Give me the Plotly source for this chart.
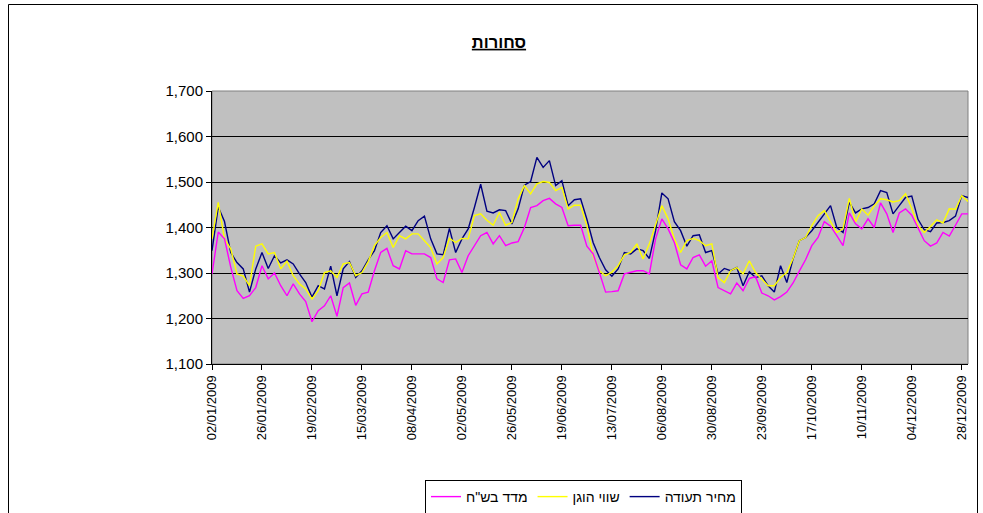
import pandas as pd
import plotly.graph_objects as go

# categories: sampling dates (every 3 days through 2009)
dates = pd.date_range("2009-01-02", periods=122, freq="3D")

# series values
price_note = [1349, 1445, 1413, 1345, 1323, 1309, 1258, 1309, 1345, 1310,
              1338, 1322, 1329, 1320, 1298, 1279, 1247, 1272, 1265, 1315,
              1250, 1309, 1325, 1290, 1305, 1329, 1349, 1389, 1404, 1375,
              1389, 1403, 1393, 1415, 1425, 1375, 1342, 1340, 1398, 1345,
              1375, 1397, 1444, 1495, 1436, 1432, 1439, 1437, 1408, 1441,
              1493, 1501, 1554, 1532, 1547, 1492, 1503, 1448, 1461, 1463,
              1418, 1367, 1334, 1307, 1293, 1309, 1345, 1342, 1353, 1349,
              1332, 1393, 1476, 1463, 1413, 1393, 1359, 1382, 1384, 1345,
              1349, 1298, 1310, 1305, 1312, 1272, 1303, 1290, 1294, 1272,
              1258, 1316, 1279, 1331, 1371, 1378, 1393, 1411, 1430, 1448,
              1400, 1389, 1455, 1432, 1441, 1444, 1452, 1481, 1477, 1430,
              1448, 1466, 1469, 1418, 1395, 1391, 1410, 1411, 1415, 1425,
              1470, 1466]

fair_value = [1375, 1455, 1375, 1353, 1298, 1293, 1272, 1359, 1364, 1342,
              1345, 1309, 1326, 1294, 1276, 1265, 1243, 1261, 1301, 1305,
              1290, 1320, 1323, 1294, 1301, 1325, 1360, 1378, 1389, 1356,
              1382, 1375, 1386, 1386, 1371, 1356, 1320, 1334, 1376, 1367,
              1376, 1375, 1426, 1430, 1416, 1405, 1433, 1405, 1411, 1463,
              1492, 1474, 1496, 1501, 1499, 1481, 1488, 1441, 1449, 1449,
              1404, 1338, 1305, 1294, 1302, 1316, 1340, 1345, 1364, 1331,
              1364, 1404, 1448, 1419, 1375, 1345, 1371, 1376, 1371, 1360,
              1364, 1290, 1279, 1305, 1312, 1298, 1327, 1301, 1287, 1272,
              1272, 1290, 1301, 1332, 1371, 1378, 1404, 1426, 1437, 1413,
              1389, 1397, 1464, 1412, 1441, 1427, 1448, 1463, 1461, 1456,
              1459, 1474, 1442, 1404, 1389, 1402, 1417, 1410, 1441, 1440,
              1470, 1457]

index_ils = [1298, 1390, 1375, 1313, 1261, 1244, 1250, 1268, 1316, 1287,
             1300, 1272, 1250, 1276, 1254, 1237, 1193, 1217, 1228, 1250,
             1205, 1268, 1278, 1229, 1254, 1258, 1305, 1345, 1354, 1316,
             1309, 1349, 1342, 1342, 1342, 1334, 1287, 1279, 1329, 1331,
             1301, 1338, 1359, 1382, 1389, 1364, 1382, 1360, 1366, 1369,
             1400, 1444, 1448, 1459, 1464, 1452, 1444, 1404, 1405, 1405,
             1359, 1342, 1301, 1258, 1259, 1261, 1298, 1301, 1305, 1305,
             1298, 1375, 1419, 1397, 1367, 1318, 1309, 1334, 1340, 1315,
             1327, 1268, 1261, 1254, 1278, 1261, 1288, 1292, 1256, 1250,
             1241, 1248, 1258, 1278, 1304, 1329, 1360, 1378, 1413, 1403,
             1382, 1360, 1432, 1408, 1397, 1419, 1400, 1454, 1430, 1389,
             1432, 1441, 1427, 1400, 1371, 1359, 1366, 1389, 1381, 1405,
             1430, 1430]

# tick labels
x_tick_labels = ["02/01/2009", "26/01/2009", "19/02/2009", "15/03/2009",
                 "08/04/2009", "02/05/2009", "26/05/2009", "19/06/2009",
                 "13/07/2009", "06/08/2009", "30/08/2009", "23/09/2009",
                 "17/10/2009", "10/11/2009", "04/12/2009", "28/12/2009"]
y_tick_vals = [1100, 1200, 1300, 1400, 1500, 1600, 1700]

names = ["מחיר תעודה", "שווי הוגן", 'מדד בש"ח']
FONT = "Arial, Liberation Sans, DejaVu Sans, sans-serif"

x_tick_vals = pd.to_datetime(x_tick_labels, format="%d/%m/%Y")

fig = go.Figure()
fig.add_trace(go.Scatter(x=dates, y=price_note, mode="lines", name=names[0],
                         line=dict(color="#000080", width=1.4), legendrank=3))
fig.add_trace(go.Scatter(x=dates, y=fair_value, mode="lines", name=names[1],
                         line=dict(color="#FFFF00", width=1.4), legendrank=2))
fig.add_trace(go.Scatter(x=dates, y=index_ils, mode="lines", name=names[2],
                         line=dict(color="#FF00FF", width=1.4), legendrank=1))

L, R, T, B = 212, 15, 91, 149
W, H = 983, 513
pw, ph = W - L - R, H - T - B

def px_x(p):
    return (p - L) / pw

def px_y(p):
    return (H - B - p) / ph

fig.update_layout(
    width=W, height=H,
    margin=dict(l=L, r=R, t=T, b=B, autoexpand=False),
    paper_bgcolor="white",
    plot_bgcolor="#C0C0C0",
    font=dict(family=FONT, size=12, color="black"),
    title=dict(text="<b>סחורות</b>", x=0.5076, xref="container", xanchor="center",
               y=1 - 42 / H, yref="container", yanchor="middle",
               font=dict(family=FONT, size=16.5, color="black", lineposition="under")),
    showlegend=True,
    legend=dict(orientation="h", x=px_x(583.5), xanchor="center",
                y=px_y(480), yanchor="top",
                bgcolor="white", bordercolor="black", borderwidth=1,
                font=dict(family=FONT, size=14, color="black"),
                traceorder="normal", itemwidth=30),
    xaxis=dict(type="date", range=["2009-01-02", "2009-12-31"],
               tickmode="array", tickvals=x_tick_vals, ticktext=x_tick_labels,
               tickangle=-90, ticks="outside", ticklen=5, tickcolor="black",
               showline=True, linecolor="black", linewidth=1,
               showgrid=False, zeroline=False,
               tickfont=dict(family=FONT, size=13, color="black")),
    yaxis=dict(range=[1100, 1700], tickmode="array", tickvals=y_tick_vals,
               tickformat=",d", ticks="outside", ticklen=5, tickcolor="black",
               showline=True, linecolor="black", linewidth=1,
               showgrid=True, gridcolor="#000000", gridwidth=1,
               zeroline=False,
               tickfont=dict(family=FONT, size=15, color="black")),
)

# plot area border (top/right grey)
fig.add_shape(type="rect", xref="paper", yref="paper", x0=0, x1=1, y0=0, y1=1,
              line=dict(color="#808080", width=1), layer="below")
# outer chart border
fig.add_shape(type="rect", xref="paper", yref="paper",
              x0=px_x(8.5), x1=px_x(977.5), y0=px_y(530), y1=px_y(4.5),
              line=dict(color="black", width=1))

fig.write_html("out.html", config={"displayModeBar": False},
               post_script="document.body.style.margin='0';")
